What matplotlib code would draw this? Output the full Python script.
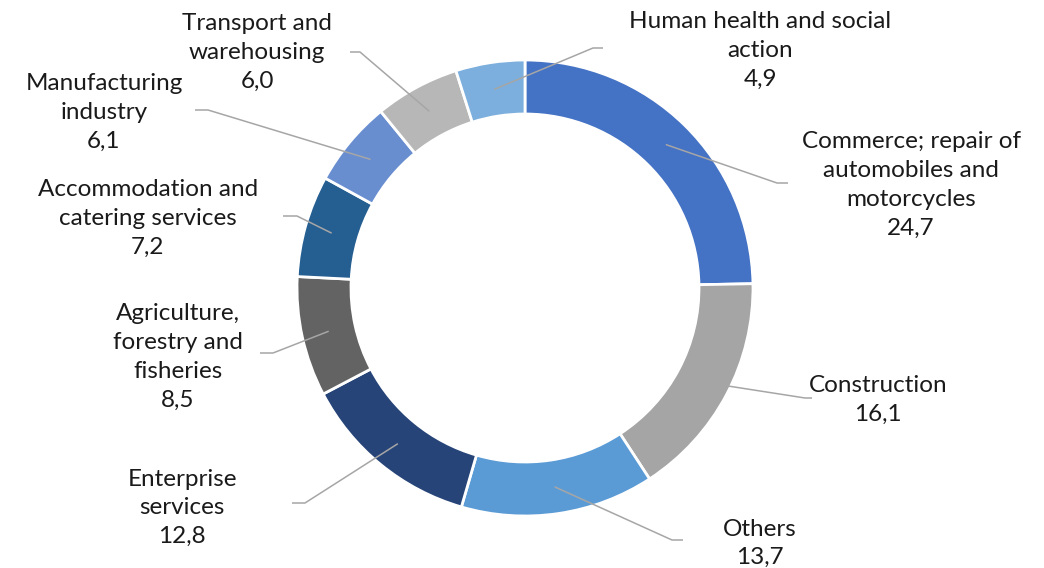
import numpy as np
import matplotlib
matplotlib.use("Agg")
import matplotlib.pyplot as plt

# ---- data (clockwise from 12 o'clock) ----
labels = [
    "Commerce; repair of\nautomobiles and\nmotorcycles",
    "Construction",
    "Others",
    "Enterprise\nservices",
    "Agriculture,\nforestry and\nfisheries",
    "Accommodation and\ncatering services",
    "Manufacturing\nindustry",
    "Transport and\nwarehousing",
    "Human health and social\naction",
]
values = [24.7, 16.1, 13.7, 12.8, 8.5, 7.2, 6.1, 6.0, 4.9]
colors = ["#4472C4", "#A5A5A5", "#5B9BD5", "#264478", "#636363",
          "#255E91", "#698ED0", "#B7B7B7", "#7CAFDD"]

# label layout in pixel coords: (text centre x, first-line centre y, elbow x, elbow y, end x)
label_layout = [
    (911, 140, 777, 183, 788),
    (878, 384, 805, 398, 812),
    (760, 527, 672, 540, 683),
    (182, 477, 305, 503, 292),
    (178, 312, 273, 353, 260),
    (148, 188, 297, 216, 283),
    (104, 82, 208, 110, 195),
    (257, 22, 360, 52, 350),
    (760, 20, 593, 48, 603),
]

W, H = 1044, 568
CX, CY, R, RIN = 525, 288, 228, 174
LINE_H = 28.8  # pixel distance between text lines


def py(y):
    # pixel y (top-down) -> data y (bottom-up)
    return H - y


plt.rcParams["font.family"] = ["Lato", "DejaVu Sans"]
fig = plt.figure(figsize=(W / 100, H / 100), dpi=100)
ax = fig.add_axes([0, 0, 1, 1])

ax.pie(values, colors=colors, startangle=90, counterclock=False,
       center=(CX, py(CY)), radius=R, frame=True,
       wedgeprops=dict(width=R - RIN, edgecolor="white", linewidth=2.0))
ax.set_xlim(0, W)
ax.set_ylim(0, H)
ax.set_aspect("equal")
ax.axis("off")

total = sum(values)
cum = 0.0
rmid = (R + RIN) / 2
for lab, v, (tx, ty, ex, ey, endx) in zip(labels, values, label_layout):
    ang = np.deg2rad(90 - (cum + v / 2) / total * 360)
    cum += v
    ax0 = CX + rmid * np.cos(ang)
    ay0 = py(CY) + rmid * np.sin(ang)
    ax.plot([ax0, ex, endx], [ay0, py(ey), py(ey)], color="#A6A6A6",
            lw=1.1, solid_capstyle="butt", zorder=3)
    lines = lab.split("\n") + [f"{v:.1f}".replace(".", ",")]
    for i, s in enumerate(lines):
        ax.text(tx, py(ty + i * LINE_H), s, ha="center", va="center_baseline",
                fontsize=17.5, color="#1a1a1a")

fig.savefig("out.png", dpi=100)
